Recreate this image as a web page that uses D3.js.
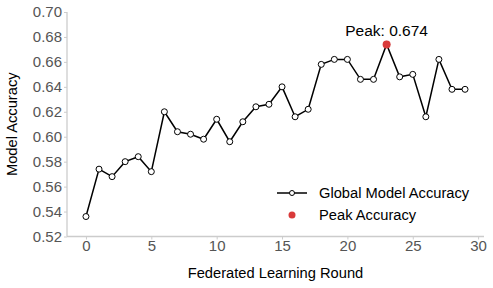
<!DOCTYPE html>
<html><head><meta charset="utf-8">
<script src="https://cdn.jsdelivr.net/npm/d3@7"></script>
<style>body{margin:0;background:#fff}svg{display:block}</style>
</head><body>
<svg id="c" width="493" height="288"></svg>
<script>
const rounds = d3.range(0, 30);
const accuracy = [0.536,0.574,0.568,0.580,0.584,0.572,0.620,0.604,0.602,0.598,
                  0.614,0.596,0.612,0.624,0.626,0.640,0.616,0.622,0.658,0.662,
                  0.662,0.646,0.646,0.674,0.648,0.650,0.616,0.662,0.638,0.638];
const xTicks = [0,5,10,15,20,25,30];
const yTicks = [0.52,0.54,0.56,0.58,0.60,0.62,0.64,0.66,0.68,0.70];
const xLabel = "Federated Learning Round";
const yLabel = "Model Accuracy";
const legendLabels = ["Global Model Accuracy","Peak Accuracy"];

const font = "Liberation Sans, Arial, sans-serif";
const svg = d3.select("#c");
const L = 67, R = 484, T = 12, B = 236.5;
const x = d3.scaleLinear().domain([-1.45, 30.45]).range([L, R]);
const y = d3.scaleLinear().domain([0.52, 0.70]).range([B, T]);

// axes
const gx = svg.append("g").attr("transform", `translate(0,${B})`)
  .call(d3.axisBottom(x).tickValues(xTicks).tickSize(3).tickPadding(1).tickFormat(d3.format("d")));
const gy = svg.append("g").attr("transform", `translate(${L},0)`)
  .call(d3.axisLeft(y).tickValues(yTicks).tickSize(3).tickPadding(2).tickFormat(d3.format(".2f")));
[gx, gy].forEach(g => {
  g.select(".domain").attr("stroke", "#cccccc").attr("stroke-width", 1.3);
  g.selectAll(".tick line").attr("stroke", "#cccccc").attr("stroke-width", 1);
  g.selectAll(".tick text").attr("fill", "#555").style("font-family", font).style("font-size", "15px");
});
gx.select(".domain").attr("d", `M${L},0H${R}`);
gy.select(".domain").attr("d", `M0,${B}V${T}`);

// labels
svg.append("text").attr("x", (L + R) / 2).attr("y", 278).attr("text-anchor", "middle")
  .style("font-family", font).style("font-size", "14.7px").attr("fill", "#000").text(xLabel);
svg.append("text").attr("transform", `translate(17,${(T + B) / 2}) rotate(-90)`).attr("text-anchor", "middle")
  .style("font-family", font).style("font-size", "14.7px").attr("fill", "#000").text(yLabel);

// line
const data = rounds.map((r, i) => ({r, v: accuracy[i]}));
svg.append("path").datum(data)
  .attr("fill", "none").attr("stroke", "#000").attr("stroke-width", 1.5)
  .attr("d", d3.line().x(d => x(d.r)).y(d => y(d.v)));
svg.selectAll("circle.pt").data(data).enter().append("circle").attr("class", "pt")
  .attr("cx", d => x(d.r)).attr("cy", d => y(d.v)).attr("r", 3)
  .attr("fill", "#fff").attr("stroke", "#000").attr("stroke-width", 1);

// peak
const peak = data.reduce((a, b) => b.v > a.v ? b : a);
svg.append("circle").attr("cx", x(peak.r)).attr("cy", y(peak.v)).attr("r", 4)
  .attr("fill", "#d93a3a");
svg.append("text").attr("x", x(peak.r)).attr("y", y(peak.v) - 8).attr("text-anchor", "middle")
  .style("font-family", font).style("font-size", "15.5px").attr("fill", "#000")
  .text("Peak: " + peak.v.toFixed(3));

// legend
const lg = svg.append("g");
lg.append("line").attr("x1", 277).attr("x2", 307).attr("y1", 193).attr("y2", 193)
  .attr("stroke", "#000").attr("stroke-width", 1.5);
lg.append("circle").attr("cx", 292).attr("cy", 193).attr("r", 2.5)
  .attr("fill", "#fff").attr("stroke", "#000").attr("stroke-width", 1);
lg.append("circle").attr("cx", 292).attr("cy", 215).attr("r", 3.5).attr("fill", "#d93a3a");
legendLabels.forEach((t, i) => {
  lg.append("text").attr("x", 319).attr("y", 198 + i * 22)
    .style("font-family", font).style("font-size", "14.7px").attr("fill", "#000").text(t);
});
</script>
</body></html>
